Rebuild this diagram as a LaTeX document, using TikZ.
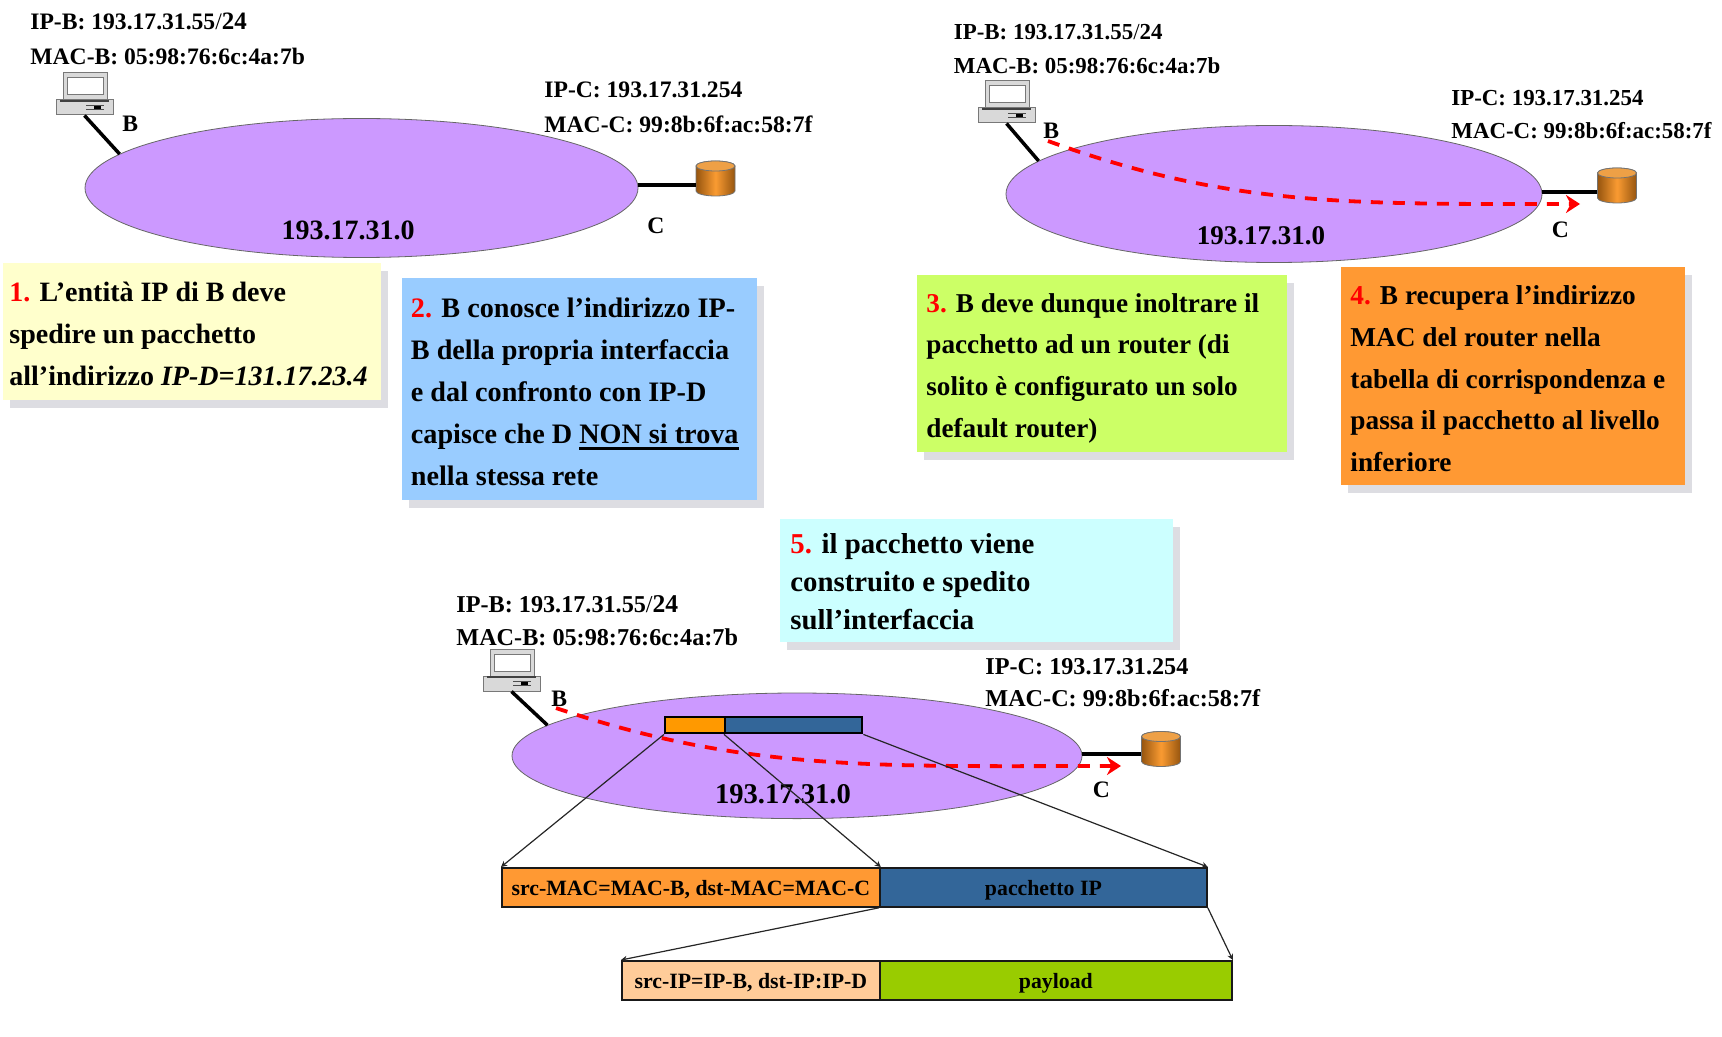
\documentclass[tikz,border=0pt]{standalone}
\usepackage{fontspec}
\setmainfont{Liberation Serif}
\usepackage{xcolor}
\usetikzlibrary{shapes.geometric, arrows.meta, shadows}
\definecolor{netpurple}{RGB}{204, 153, 255}
\definecolor{noteyellow}{RGB}{255, 255, 204}
\definecolor{noteblue}{RGB}{153, 204, 255}
\definecolor{notegreen}{RGB}{204, 255, 102}
\definecolor{noteorange}{RGB}{255, 153, 51}
\definecolor{notecyan}{RGB}{204, 255, 255}
\definecolor{framelight}{RGB}{255, 204, 153}
\definecolor{frameblue}{RGB}{51, 102, 153}
\definecolor{framegreen}{RGB}{153, 204, 0}
\definecolor{hdrorange}{RGB}{255, 153, 0}
\definecolor{noteshadow}{RGB}{221, 221, 226}
\definecolor{pcgray}{RGB}{217, 217, 217}
\definecolor{pcedge}{RGB}{120, 120, 120}
\definecolor{canedge}{RGB}{150, 85, 15}
\definecolor{canmid}{RGB}{250, 155, 50}
\definecolor{cantop}{RGB}{238, 160, 70}
\newcommand{\stepnum}[1]{\textcolor{red}{#1}}
\newcommand{\heavyul}[1]{\setbox0\hbox{#1}\rlap{\rule[-3.5pt]{\wd0}{1.6pt}}\box0}
\tikzset{
    pc/.pic={
        \draw[pcedge, fill=pcgray, line width=0.5pt] (7,-27) rectangle (51,0);
        \draw[pcedge, fill=white, line width=0.5pt] (11,-22) rectangle (47,-5);
        \node[draw=pcedge, fill=pcgray, line width=0.5pt, inner sep=0pt, minimum width=28.5pt, minimum height=7.5pt] (-body) at (28.5,7.5) {};
        \draw[black!75, line width=0.6pt] (4,1) -- (53,1);
        \draw[black!70, line width=0.4pt] (30,5) -- (48,5) (30,9) -- (48,9);
        \fill[black] (38,6) rectangle (45,9);
    },
    router/.pic={
        \node[inner sep=0pt, minimum width=19.5pt, minimum height=17.5pt] (-body) at (0,0) {};
        \shade[draw=black!55, line width=0.4pt, left color=canedge, right color=canedge, middle color=canmid] (-19.5,-12.5) -- (-19.5,12.5) arc (180:0:19.5 and 5) -- (19.5,-12.5) arc (0:-180:19.5 and 5) -- cycle;
        \draw[black!55, line width=0.4pt, fill=cantop] (0,-12.5) ellipse (19.5 and 5);
    }
}
\begin{document}
\begin{tikzpicture}[
    x=0.5pt, y=-0.5pt,
    net/.style={ellipse, draw=black!60, fill=netpurple, line width=0.4pt, inner sep=0pt},
    note/.style 2 args={rectangle, anchor=north west, inner xsep=4.5pt, inner ysep=0pt, align=flush left, font=\bfseries\fontsize{#1}{#2}\selectfont, drop shadow={shadow xshift=3.5pt, shadow yshift=-4pt, fill=noteshadow, opacity=1}},
    lbl/.style={anchor=base west, inner sep=0pt, font=\bfseries\fontsize{#1}{14}\selectfont},
    lbl/.default=11.8,
    netlbl/.style={anchor=base, inner sep=0pt, font=\bfseries\fontsize{#1}{16}\selectfont},
    frame/.style={rectangle, draw=black!90, line width=0.9pt, anchor=north west, inner sep=0pt, minimum height=19.5pt, text height=8.5pt, text depth=0pt, font=\bfseries\fontsize{10.9}{13}\selectfont},
    hdr/.style={rectangle, draw=black, line width=1.2pt, anchor=north west, inner sep=0pt, minimum height=8pt},
    link/.style={line width=1.75pt},
    rlink/.style={line width=2pt},
    route/.style={red, line width=1.9pt, dash pattern=on 6pt off 5pt, -{Stealth[length=7pt, width=9pt]}},
    arrow/.style={-{Stealth[length=3pt, width=3pt]}, line width=0.6pt, black!85}
]
    \useasboundingbox (0,0) rectangle (1722,1037);

    % Panel 1
    \node[net, minimum width=276.5pt, minimum height=69.5pt] (netA) at (361.5,188) {};
    \pic (pcA) at (56,100) {pc};
    \pic (canA) at (715.5,178.5) {router};
    \coordinate (portA) at (638,185);
    \draw[link] (pcA-body.south) -- (netA.172);
    \draw[rlink] (portA) -- (portA -| canA-body.west);
    \node[lbl] (ipbA) at (30,30) {IP-B: 193.17.31.55{\mdseries/}{\fontsize{12.5}{14}\selectfont 24}};
    \node[lbl] (macbA) at (30,65) {MAC-B: 05:98:76:6c:4a:7b};
    \node[lbl] (ipcA) at (544,98) {IP-C: 193.17.31.254};
    \node[lbl] (maccA) at (544,133) {MAC-C: 99:8b:6f:ac:58:7f};
    \node[lbl] (hostA) at (122,132) {B};
    \node[lbl] (gwA) at (647,234) {C};
    \node[netlbl=14] (addrA) at (348,239.5) {193.17.31.0};

    % Panel 2
    \node[net, minimum width=268pt, minimum height=68.5pt] (netB) at (1274,194) {};
    \pic (pcB) at (978,108) {pc};
    \pic (canB) at (1617,185.5) {router};
    \coordinate (portB) at (1542,192);
    \coordinate (startB) at (1048,141);
    \coordinate (endB) at (1580,204);
    \draw[link] (pcB-body.south) -- (netB.172);
    \draw[rlink] (portB) -- (portB -| canB-body.west);
    \draw[route] (startB) .. controls (1230,207) and (1350,204) .. (endB);
    \node[lbl=11.45] (ipbB) at (953.5,40) {IP-B: 193.17.31.55{\mdseries/}24};
    \node[lbl=11.45] (macbB) at (953.5,73.5) {MAC-B: 05:98:76:6c:4a:7b};
    \node[lbl=11.45] (ipcB) at (1451,105.5) {IP-C: 193.17.31.254};
    \node[lbl=11.45] (maccB) at (1451,139) {MAC-C: 99:8b:6f:ac:58:7f};
    \node[lbl] (hostB) at (1043,139) {B};
    \node[lbl] (gwB) at (1551.5,238) {C};
    \node[netlbl=13.5] (addrB) at (1261,245) {193.17.31.0};

    % Panel 3
    \node[net, minimum width=285pt, minimum height=62.8pt] (netC) at (797,755.8) {};
    \pic (pcC) at (483,676) {pc};
    \pic (canC) at (1161,749) {router};
    \coordinate (portC) at (1082,753.5);
    \coordinate (startC) at (556,708);
    \coordinate (endC) at (1121,766);
    \draw[link] (pcC-body.south) -- (netC.173);
    \draw[rlink] (portC) -- (portC -| canC-body.west);
    \draw[route] (startC) .. controls (746,772) and (878,766) .. (endC);
    \node[lbl=12.1] (ipbC) at (456,612.5) {IP-B: 193.17.31.55{\mdseries/}{\fontsize{12.8}{14}\selectfont 24}};
    \node[lbl=12.1] (macbC) at (456,645) {MAC-B: 05:98:76:6c:4a:7b};
    \node[lbl=12.1] (ipcC) at (985,674.5) {IP-C: 193.17.31.254};
    \node[lbl=12.1] (maccC) at (985,706.5) {MAC-C: 99:8b:6f:ac:58:7f};
    \node[lbl] (hostC) at (551,706.5) {B};
    \node[lbl] (gwC) at (1092.5,797) {C};
    \node[netlbl=14.3] (addrC) at (783,803) {193.17.31.0};

    % Notes
    \node[note={14}{21}, fill=noteyellow, inner xsep=3pt, text width=183pt, text height=19pt, text depth=49.5pt] (noteone) at (3,263) {\stepnum{1.} L’entità IP di B deve\\spedire un pacchetto\\all’indirizzo \textit{IP-D=131.17.23.4}};
    \node[note={14.1}{21}, fill=noteblue, text width=168.75pt, text height=19.5pt, text depth=91.25pt] (notetwo) at (401.5,278) {\stepnum{2.} B conosce l’indirizzo IP-\\B della propria interfaccia\\e dal confronto con IP-D\\capisce che D \heavyul{NON si trova}\\nella stessa rete};
    \node[note={13.6}{20.8}, fill=notegreen, text width=175.8pt, text height=18.75pt, text depth=69.65pt] (notethree) at (917,274.5) {\stepnum{3.} B deve dunque inoltrare il\\pacchetto ad un router (di\\solito è configurato un solo\\default router)};
    \node[note={13.65}{20.8}, fill=noteorange, text width=162.8pt, text height=18.75pt, text depth=90.25pt] (notefour) at (1341,267) {\stepnum{4.} B recupera l’indirizzo\\MAC del router nella\\tabella di corrispondenza e\\passa il pacchetto al livello\\inferiore};
    \node[note={14.4}{19}, fill=notecyan, inner xsep=5pt, text width=186.5pt, text height=17pt, text depth=44.5pt] (notefive) at (780,519) {\stepnum{5.} il pacchetto viene\\construito e spedito\\sull’interfaccia};

    % Frames
    \node[hdr, fill=hdrorange, minimum width=30pt] (hdrmac) at (664,716) {};
    \node[hdr, fill=frameblue, minimum width=68.5pt] (hdrdata) at (724,716) {};
    \node[frame, fill=noteorange, minimum width=189pt] (framemac) at (501,867) {src-MAC=MAC-B, dst-MAC=MAC-C};
    \node[frame, fill=frameblue, minimum width=163.5pt] (framedata) at (879,867) {pacchetto IP};
    \node[frame, fill=framelight, minimum width=129pt] (frameip) at (621,960) {src-IP=IP-B, dst-IP:IP-D};
    \node[frame, fill=framegreen, minimum width=176pt] (framepay) at (879,960) {payload};

    % Arrows
    \draw[arrow] (hdrmac.south west) -- (framemac.north west);
    \draw[arrow] (hdrdata.south west) -- (framemac.north east);
    \draw[arrow] (hdrdata.south east) -- (framedata.north east);
    \draw[arrow] (framedata.south west) -- (frameip.north west);
    \draw[arrow] (framedata.south east) -- (framepay.north east);
\end{tikzpicture}
\end{document}
